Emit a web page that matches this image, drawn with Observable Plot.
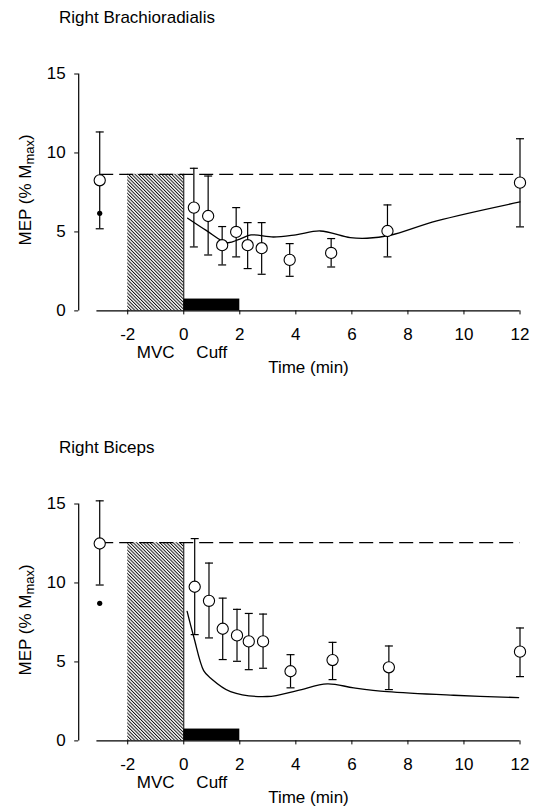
<!DOCTYPE html>
<html><head><meta charset="utf-8">
<script src="https://cdn.jsdelivr.net/npm/d3@7"></script>
<script src="https://cdn.jsdelivr.net/npm/@observablehq/plot@0.6"></script>
<style>
body{margin:0;background:#fff;}
#chart svg{display:block;}
</style></head><body><div id="chart"></div>
<script>
// ---- shared axis content ----
const timeTicks = [-2, 0, 2, 4, 6, 8, 10, 12];
const mepTicks = [0, 5, 10, 15];
const xLabel = "Time (min)";
const yLabelMain = "MEP (% M";
const yLabelSub = "max";
const yLabelEnd = ")";
const phases = [{label: "MVC", start: -2, end: 0}, {label: "Cuff", start: 0, end: 2}];
const cuffBarLevel = 0.75;

// ---- Right Brachioradialis ----
const brTitle = "Right Brachioradialis";
const brTimes = [-3, 0.36, 0.87, 1.37, 1.87, 2.28, 2.78, 3.78, 5.26, 7.27, 12];
const brMean  = [8.27, 6.54, 6.01, 4.16, 5.0, 4.16, 3.97, 3.23, 3.67, 5.06, 8.12];
const brHigh  = [11.33, 9.03, 8.54, 5.34, 6.54, 5.59, 5.59, 4.26, 4.58, 6.71, 10.9];
const brLow   = [5.2, 4.05, 3.54, 2.91, 3.42, 2.68, 2.32, 2.19, 2.78, 3.42, 5.32];
const brSingle = 6.18;
const brBaseline = 8.65;
const brCurveT = [0.14, 0.8, 1.55, 2.0, 2.4, 3.2, 4.0, 4.87, 5.94, 6.54, 7.37, 9.03, 12];
const brCurveV = [5.87, 5.1, 4.32, 4.55, 4.81, 4.68, 4.82, 5.06, 4.64, 4.6, 4.79, 5.7, 6.9];

// ---- Right Biceps ----
const bcTitle = "Right Biceps";
const bcTimes = [-3, 0.39, 0.9, 1.39, 1.9, 2.32, 2.83, 3.81, 5.31, 7.32, 12];
const bcMean  = [12.5, 9.76, 8.87, 7.1, 6.68, 6.3, 6.3, 4.41, 5.12, 4.66, 5.65];
const bcHigh  = [15.2, 12.81, 11.26, 9.04, 8.33, 8.07, 8.03, 5.46, 6.24, 6.01, 7.15];
const bcLow   = [9.87, 6.73, 6.52, 5.15, 5.04, 4.51, 4.6, 3.36, 3.88, 3.25, 4.07];
const bcSingle = 8.71;
const bcBaseline = 12.55;
const bcCurveT = [0.12, 0.36, 0.71, 0.95, 1.67, 2.98, 4.05, 5.12, 6.07, 7.26, 9.63, 11.95];
const bcCurveV = [8.2, 6.56, 4.45, 3.99, 3.12, 2.81, 3.19, 3.61, 3.36, 3.12, 2.89, 2.74];

const xDomain = [-3.75, 12];
const xAxisStart = -3.1;
const yDomain = [0, 15];
const FONT = "'Liberation Sans', Arial, Helvetica, sans-serif";

const capSymbol = {
  draw(ctx, size) {
    const r = Math.sqrt(size / Math.PI);
    ctx.moveTo(-r, 0); ctx.lineTo(r, 0);
  }
};

function panel(cfg, H, id) {
  const mTop = 73.5, y0px = 310.4;
  const pts = cfg.times.map((t, i) => ({t, m: cfg.mean[i], lo: cfg.low[i], hi: cfg.high[i]}));
  const curve = cfg.curveT.map((t, i) => ({t, v: cfg.curveV[i]}));
  const xMax = xDomain[1];
  const plot = Plot.plot({
    width: 541, height: H,
    marginTop: mTop, marginBottom: H - y0px, marginLeft: 78.2, marginRight: 21.5,
    x: {domain: xDomain},
    y: {domain: yDomain},
    style: {fontFamily: FONT, fontSize: "17px", color: "#000", background: "#fff", overflow: "visible"},
    marks: [
      Plot.rect([phases[0]], {x1: "start", x2: "end", y1: 0, y2: () => cfg.baseline, fill: `url(#hatch-${id})`}),
      Plot.ruleX([phases[0]], {x: "end", y1: 0, y2: () => cfg.baseline, stroke: "#000", strokeWidth: 1}),
      Plot.rect([phases[1]], {x1: "start", x2: "end", y1: 0, y2: () => cuffBarLevel, fill: "#000"}),
      Plot.ruleX([xDomain[0]], {y1: yDomain[0], y2: yDomain[1], stroke: "#000", strokeWidth: 1.2}),
      Plot.ruleY([0], {x1: xAxisStart, x2: xMax, stroke: "#000", strokeWidth: 1.2}),
      Plot.ruleY([cfg.baseline], {x1: cfg.times[0], x2: xMax, stroke: "#000", strokeWidth: 1.2, strokeDasharray: "14,6"}),
      Plot.line(curve, {x: "t", y: "v", curve: "catmull-rom", stroke: "#000", strokeWidth: 1.3}),
      Plot.ruleX(pts, {x: "t", y1: "lo", y2: "hi", stroke: "#000", strokeWidth: 1.2}),
      Plot.dot(pts, {x: "t", y: "hi", symbol: capSymbol, r: 4, stroke: "#000", strokeWidth: 1.2, fill: "none"}),
      Plot.dot(pts, {x: "t", y: "lo", symbol: capSymbol, r: 4, stroke: "#000", strokeWidth: 1.2, fill: "none"}),
      Plot.dot(pts, {x: "t", y: "m", r: 5.6, fill: "#fff", stroke: "#000", strokeWidth: 1.1}),
      Plot.dot([cfg.single], {x: () => cfg.times[0], y: d => d, r: 2.6, fill: "#000", stroke: "none"}),
      Plot.axisY(mepTicks, {tickSize: 4, tickPadding: 9, label: null, fontSize: 17}),
      Plot.axisX(timeTicks, {tickSize: 4, tickPadding: 13, label: null, fontSize: 17, tickFormat: d => String(d)}),
      Plot.text(phases, {x: d => (d.start + d.end) / 2, y: 0, dy: 41.4, text: "label", fontSize: 17}),
      Plot.text([xLabel], {x: (xAxisStart + xMax) / 2, y: 0, dy: 56.6, text: d => d, fontSize: 17})
    ]
  });
  const svg = d3.select(plot);
  const defs = svg.insert("defs", ":first-child");
  const pat = defs.append("pattern")
    .attr("id", `hatch-${id}`).attr("patternUnits", "userSpaceOnUse")
    .attr("width", 2.35).attr("height", 10).attr("patternTransform", "rotate(-45)");
  pat.append("rect").attr("width", 2.35).attr("height", 10).attr("fill", "#fff");
  pat.append("line").attr("x1", 0.5).attr("y1", 0).attr("x2", 0.5).attr("y2", 10)
    .attr("stroke", "#000").attr("stroke-width", 0.9);
  // title
  svg.append("text").attr("x", 59).attr("y", 19).attr("dominant-baseline", "middle")
    .attr("text-anchor", "start")
    .attr("font-family", FONT).attr("font-size", 17).attr("fill", "#000").text(cfg.title);
  // y label with subscript
  const yl = svg.append("text")
    .attr("transform", `translate(31, ${(mTop + y0px) / 2 - 2}) rotate(-90)`)
    .attr("text-anchor", "middle").attr("font-family", FONT).attr("font-size", 17).attr("fill", "#000");
  yl.append("tspan").text(yLabelMain);
  yl.append("tspan").attr("font-size", 13).attr("dy", 3).text(yLabelSub);
  yl.append("tspan").attr("dy", -3).text(yLabelEnd);
  return plot;
}

const root = document.getElementById("chart");
root.appendChild(panel({title: brTitle, times: brTimes, mean: brMean, high: brHigh, low: brLow,
  single: brSingle, baseline: brBaseline, curveT: brCurveT, curveV: brCurveV}, 430, "br"));
root.appendChild(panel({title: bcTitle, times: bcTimes, mean: bcMean, high: bcHigh, low: bcLow,
  single: bcSingle, baseline: bcBaseline, curveT: bcCurveT, curveV: bcCurveV}, 382, "bc"));
</script>
</body></html>
